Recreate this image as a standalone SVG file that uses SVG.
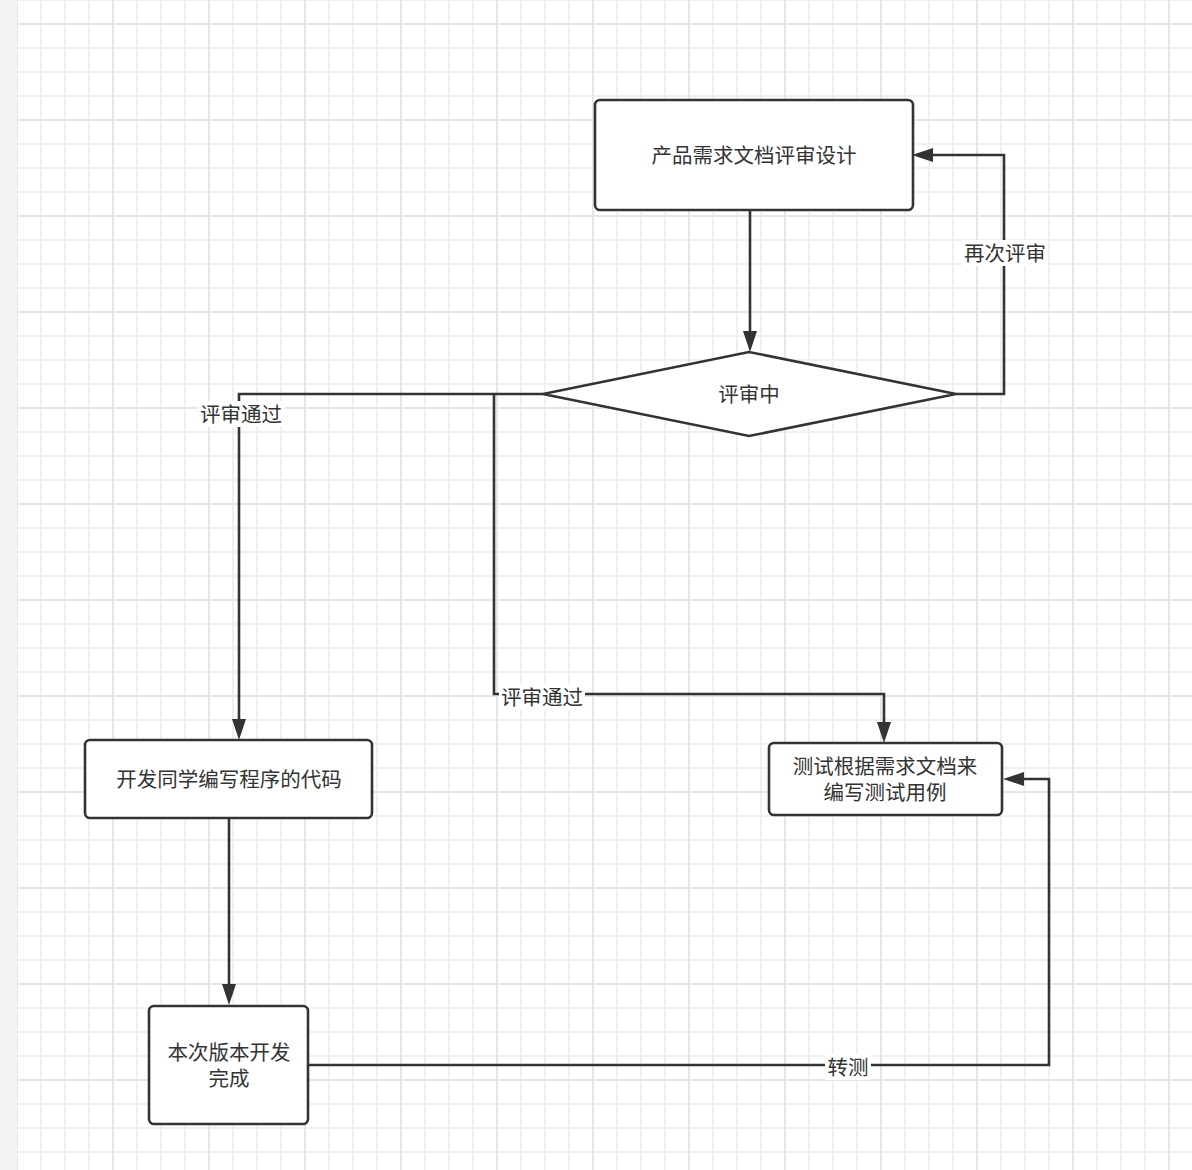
<svg xmlns="http://www.w3.org/2000/svg" width="1192" height="1170" viewBox="0 0 1192 1170">
<defs>
<pattern id="grid" x="16" y="23" width="96" height="96" patternUnits="userSpaceOnUse">
<rect x="0" y="0" width="96" height="96" fill="#ffffff"/>
<g fill="#f0f0f0">
<rect x="24" y="0" width="2" height="96"/><rect x="48" y="0" width="2" height="96"/><rect x="72" y="0" width="2" height="96"/>
<rect x="0" y="24" width="96" height="2"/><rect x="0" y="48" width="96" height="2"/><rect x="0" y="72" width="96" height="2"/>
</g>
<g fill="#e6e6e6">
<rect x="0" y="0" width="2" height="96"/><rect x="0" y="0" width="96" height="2"/>
</g>
</pattern>
<marker id="arr" markerUnits="userSpaceOnUse" markerWidth="21" markerHeight="14" refX="0" refY="7" orient="auto" viewBox="0 0 21 14">
<path d="M0,0 L21,7 L0,14 z" fill="#333333"/>
</marker>
</defs>
<style>
.node{fill:#ffffff;stroke:#333333;stroke-width:2.6}
.t{font-family:"Noto Sans CJK SC","Noto Sans",sans-serif;font-size:20.5px;fill:#333333;text-anchor:middle;dominant-baseline:central}
.c{fill:none;stroke:#333333;stroke-width:2.6}
.lb{fill:#ffffff}
</style>
<rect x="0" y="0" width="1192" height="1170" fill="url(#grid)"/>
<rect x="0" y="0" width="17" height="1170" fill="#f2f2f2"/>

<g id="connectors">
<path class="c" d="M750,211 L750,331" marker-end="url(#arr)"/>
<path class="c" d="M956,394 L1004,394 L1004,155 L933,155" marker-end="url(#arr)"/>
<path class="c" d="M543,394 L239,394 L239,719" marker-end="url(#arr)"/>
<path class="c" d="M494,394 L494,694 L884,694 L884,722" marker-end="url(#arr)"/>
<path class="c" d="M229,819 L229,984" marker-end="url(#arr)"/>
<path class="c" d="M309,1065 L1049,1065 L1049,779 L1024,779" marker-end="url(#arr)"/>
<rect class="lb" x="962" y="240" width="86" height="26"/>
<text class="t" x="1005" y="252">再次评审</text>
<rect class="lb" x="198" y="401" width="87" height="26"/>
<text class="t" x="241" y="413">评审通过</text>
<rect class="lb" x="499" y="684" width="86" height="26"/>
<text class="t" x="542" y="696">评审通过</text>
<rect class="lb" x="825" y="1054" width="46" height="26"/>
<text class="t" x="848" y="1066">转测</text>
</g>

<g id="node-prd">
<rect class="node" x="595" y="100" width="318" height="110" rx="5"/>
<text class="t" x="754" y="154">产品需求文档评审设计</text>
</g>
<g id="node-review">
<path class="node" d="M543,394 L749,352 L956,394 L749,436 z"/>
<text class="t" x="749" y="393">评审中</text>
</g>
<g id="node-dev">
<rect class="node" x="85" y="740" width="287" height="78" rx="5"/>
<text class="t" x="229" y="778">开发同学编写程序的代码</text>
</g>
<g id="node-test">
<rect class="node" x="769" y="743" width="233" height="72" rx="5"/>
<text class="t" x="885" y="765">测试根据需求文档来</text>
<text class="t" x="885" y="791">编写测试用例</text>
</g>
<g id="node-done">
<rect class="node" x="149" y="1006" width="159" height="118" rx="5"/>
<text class="t" x="229" y="1051">本次版本开发</text>
<text class="t" x="229" y="1077">完成</text>
</g>
</svg>
